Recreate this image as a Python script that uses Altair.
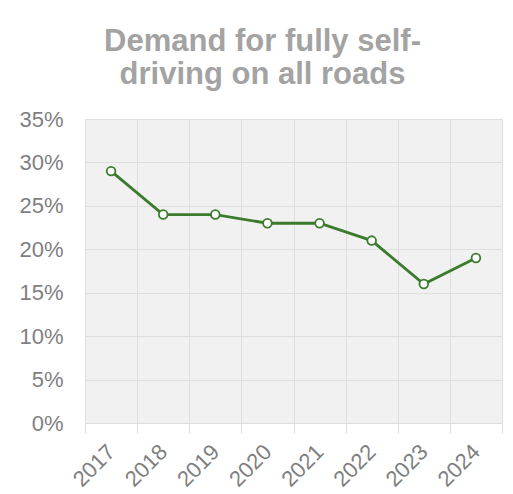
import altair as alt
import pandas as pd

years = ["2017", "2018", "2019", "2020", "2021", "2022", "2023", "2024"]
demand = [0.29, 0.24, 0.24, 0.23, 0.23, 0.21, 0.16, 0.19]
y_ticks = [0, 0.05, 0.10, 0.15, 0.20, 0.25, 0.30, 0.35]

df = pd.DataFrame({"year": years, "demand": demand})

GREEN = "#3c7a2e"
LABEL = "#7f7f7f"
GRID = "#dedede"

x_enc = alt.X(
    "year:O",
    bandPosition=0.5,
    sort=years,
    scale=alt.Scale(type="band", paddingInner=0, paddingOuter=0),
    axis=alt.Axis(
        title=None,
        labelAngle=-45,
        labelAlign="right",
        labelBaseline="middle",
        labelFontSize=22,
        labelColor=LABEL,
        labelFont="Liberation Sans",
        labelPadding=15,
        tickBand="extent",
        tickSize=10,
        tickColor=GRID,
        grid=True,
        gridColor=GRID,
        domain=False,
    ),
)
y_enc = alt.Y(
    "demand:Q",
    scale=alt.Scale(domain=[0, 0.35], nice=False),
    axis=alt.Axis(
        title=None,
        values=y_ticks,
        format=".0%",
        labelFontSize=22,
        labelColor=LABEL,
        labelFont="Liberation Sans",
        labelPadding=22,
        ticks=False,
        domain=False,
        grid=True,
        gridColor=GRID,
    ),
)

line = alt.Chart(df).mark_line(color=GREEN, strokeWidth=2.8).encode(x=x_enc, y=y_enc)
points = alt.Chart(df).mark_point(
    filled=True, fill="white", stroke=GREEN, strokeWidth=1.8, size=75, opacity=1
).encode(x=x_enc, y=y_enc)

chart = (
    alt.layer(line, points)
    .properties(
        width=417,
        height=304,
        padding={"left": 85, "top": 119, "right": 11, "bottom": 71},
        autosize=alt.AutoSizeParams(type="none"),
        background="white",
        title=alt.TitleParams(
            text=["Demand for fully self-", "driving on all roads"],
            fontSize=31,
            font="Liberation Sans",
            fontWeight="bold",
            color="#a3a3a3",
            anchor="middle",
            frame="group",
            dx=-31,
            lineHeight=33,
            offset=17,
        ),
    )
    .configure_view(fill="#f1f1f1", stroke=None)
)

chart.save("out.html", embed_options={"renderer": "svg", "actions": False})
